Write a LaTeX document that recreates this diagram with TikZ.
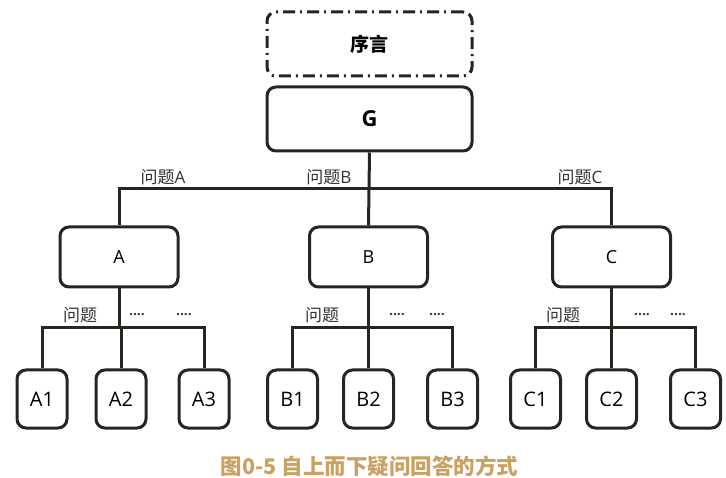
\documentclass[tikz,border=0pt]{standalone}
\usepackage{fontspec}
\setmainfont{Noto Sans CJK SC}
\newfontfamily\latinfont{Open Sans}
\definecolor{capgold}{RGB}{203,161,98}
\definecolor{lineblack}{RGB}{40,36,32}
\begin{document}
\begin{tikzpicture}[x=1pt,y=-1pt,
  box/.style={draw=lineblack,line width=3pt,rounded corners=9pt,inner sep=0pt,fill=white},
  bigbox/.style={box,minimum width=205pt,minimum height=64pt},
  midbox/.style={box,minimum width=118pt,minimum height=60pt,font=\latinfont\fontsize{18}{20}\selectfont},
  leafbox/.style={box,minimum width=50pt,minimum height=58pt,font=\latinfont\fontsize{20}{22}\selectfont},
  conn/.style={draw=lineblack,line width=3pt},
  lbl/.style={inner sep=0pt,font=\fontsize{17}{19}\selectfont,text=black!80},
  dots/.style={inner sep=0pt,font=\latinfont\bfseries\fontsize{14}{16}\selectfont,text=black!75}]
\useasboundingbox (0,0) rectangle (726,478);
\node[bigbox,dash pattern=on 12pt off 5pt on 2pt off 5pt,font=\bfseries\fontsize{19}{21}\selectfont] (pref) at (369.5,44) {序言};
\node[bigbox,font=\latinfont\bfseries\fontsize{22}{24}\selectfont] (G) at (369.5,119) {G};
\node[midbox] (A) at (119,257) {A};
\node[midbox] (B) at (368.5,257) {B};
\node[midbox] (C) at (611.5,257) {C};
\foreach \n/\x in {A1/42,A2/121,A3/204,B1/292.5,B2/368.5,B3/452.5,C1/535.5,C2/611.5,C3/695.5}
  \node[leafbox] (\n) at (\x,399) {\n};
\coordinate (hbar) at (0,189);
\coordinate (lbar) at (0,328);
\draw[conn] (A.north) -- (A.north |- hbar) -- (C.north |- hbar) -- (C.north);
\draw[conn] (G.south) -- (B.north);
\foreach \p in {A,B,C}{
  \draw[conn] (\p.south) -- (\p.south |- lbar);
  \draw[conn] (\p1.north) -- (\p1.north |- lbar) -- (\p3.north |- lbar) -- (\p3.north);
  \draw[conn] (\p2.north) -- (\p2.north |- lbar);
}
\node[lbl] (qA) at (163,177) {问题\latinfont A};
\node[lbl] (qB) at (329,177) {问题\latinfont B};
\node[lbl] (qC) at (580,177) {问题\latinfont C};
\node[lbl] (qa) at (80,315) {问题};
\node[lbl] (qb) at (322,315) {问题};
\node[lbl] (qc) at (563,315) {问题};
\node[dots] (da1) at (137,316) {····};
\node[dots] (da2) at (184,316) {····};
\node[dots] (db1) at (397,316) {····};
\node[dots] (db2) at (437,316) {····};
\node[dots] (dc1) at (642,316) {····};
\node[dots] (dc2) at (678,316) {····};
\node[inner sep=0pt,text=capgold,font=\bfseries\fontsize{21.5}{23}\selectfont] (cap) at (369.5,466) {图0-5 自上而下疑问回答的方式};
\end{tikzpicture}
\end{document}
